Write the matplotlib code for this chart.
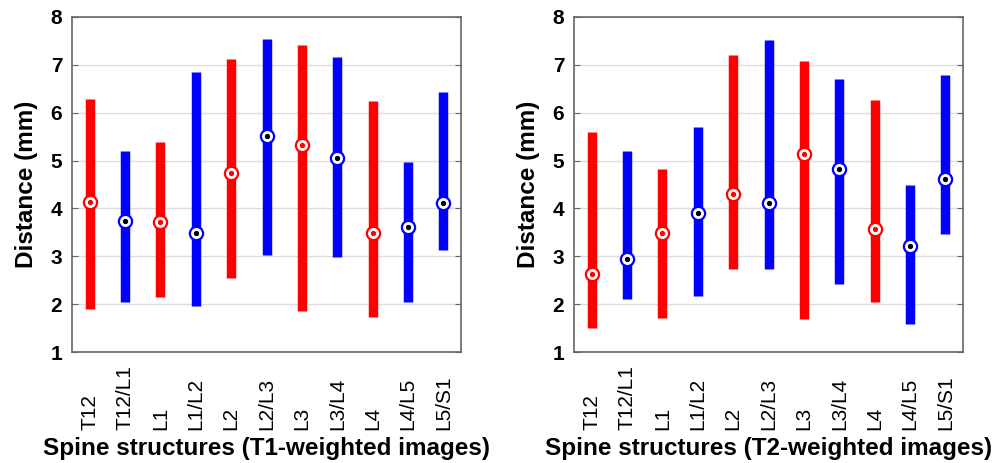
import matplotlib
matplotlib.use("Agg")
import matplotlib.pyplot as plt

plt.rcParams['font.family'] = ['Liberation Sans', 'DejaVu Sans']

# structures along the spine
labels = ["T12", "T12/L1", "L1", "L1/L2", "L2", "L2/L3", "L3", "L3/L4", "L4", "L4/L5", "L5/S1"]
colors = ["red", "blue", "red", "blue", "red", "blue", "red", "blue", "red", "blue", "blue"]
dots = ["red" if c == "red" else "black" for c in colors]

# T1-weighted images: min, max, mean (mm)
t1_min = [1.90, 2.05, 2.14, 1.97, 2.54, 3.03, 1.85, 2.99, 1.73, 2.05, 3.13]
t1_max = [6.29, 5.19, 5.38, 6.85, 7.13, 7.53, 7.42, 7.17, 6.24, 4.98, 6.43]
t1_mean = [4.14, 3.74, 3.72, 3.48, 4.73, 5.51, 5.32, 5.05, 3.48, 3.62, 4.11]

# T2-weighted images: min, max, mean (mm)
t2_min = [1.51, 2.11, 1.72, 2.18, 2.74, 2.74, 1.70, 2.43, 2.04, 1.59, 3.46]
t2_max = [5.59, 5.19, 4.82, 5.71, 7.21, 7.51, 7.08, 6.70, 6.26, 4.48, 6.79]
t2_mean = [2.64, 2.95, 3.48, 3.90, 4.31, 4.12, 5.14, 4.82, 3.56, 3.21, 4.61]

panels = [
    (t1_min, t1_max, t1_mean, "Spine structures (T1-weighted images)", 0.0724),
    (t2_min, t2_max, t2_mean, "Spine structures (T2-weighted images)", 0.5769),
]

fig = plt.figure(figsize=(9.95, 4.63), dpi=100)

x = list(range(1, len(labels) + 1))

for lo, hi, mean, xlabel, left in panels:
    ax = fig.add_axes([left, 0.2397, 0.391, 0.7236])
    ax.set_axisbelow(True)
    ax.grid(axis="y", color="#dddddd", lw=1)
    ax.vlines(x, lo, hi, colors=colors, lw=6.8, capstyle="butt", zorder=2)
    for xi, m, c, d in zip(x, mean, colors, dots):
        ax.plot(xi, m, "o", ms=9.5, mfc="white", mec=c, mew=1.6, zorder=3)
        ax.plot(xi, m, "o", ms=2.8, mfc=d, mec=d, zorder=4)
    ax.set_xlim(0.5, len(labels) + 0.5)
    ax.set_ylim(1, 8)
    ax.set_yticks(range(1, 9))
    ax.set_xticks(x)
    # labels start at a common baseline below the axis
    ax.set_xticklabels(labels, rotation=90, fontsize=15, va="bottom")
    ax.tick_params(axis="x", length=0, pad=56)
    ax.tick_params(axis="y", direction="in", left=True, right=True, length=4,
                   color="#666666", labelsize=15, pad=7)
    for t in ax.get_yticklabels():
        t.set_fontweight("bold")
    for s in ax.spines.values():
        s.set_color("#666666")
        s.set_linewidth(1.2)
    ax.set_xlabel(xlabel, fontsize=17.5, fontweight="bold", labelpad=5)
    ax.set_ylabel("Distance (mm)", fontsize=17.5, fontweight="bold", labelpad=9)

fig.savefig("out.png", dpi=100)
